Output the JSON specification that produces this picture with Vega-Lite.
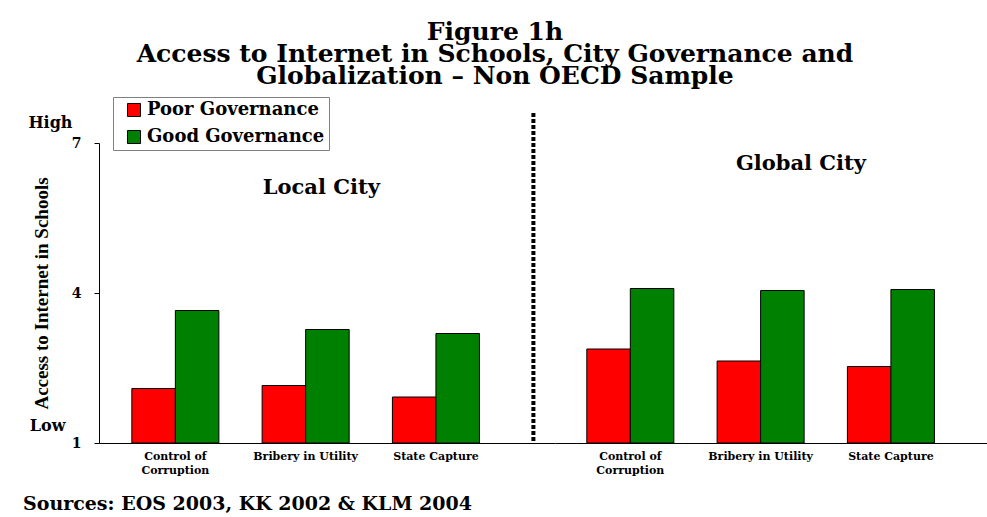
{
  "$schema": "https://vega.github.io/schema/vega-lite/v6.json",
  "background": "white",
  "padding": {"left": 22, "top": 19, "right": 0, "bottom": 0},
  "autosize": {"type": "pad"},
  "datasets": {
    "bars": [
      {"city": "Local City", "category": "Control of Corruption", "governance": "Poor Governance", "value": 2.09},
      {"city": "Local City", "category": "Control of Corruption", "governance": "Good Governance", "value": 3.65},
      {"city": "Local City", "category": "Bribery in Utility", "governance": "Poor Governance", "value": 2.15},
      {"city": "Local City", "category": "Bribery in Utility", "governance": "Good Governance", "value": 3.27},
      {"city": "Local City", "category": "State Capture", "governance": "Poor Governance", "value": 1.92},
      {"city": "Local City", "category": "State Capture", "governance": "Good Governance", "value": 3.19},
      {"city": "Global City", "category": "Control of Corruption", "governance": "Poor Governance", "value": 2.88},
      {"city": "Global City", "category": "Control of Corruption", "governance": "Good Governance", "value": 4.09},
      {"city": "Global City", "category": "Bribery in Utility", "governance": "Poor Governance", "value": 2.64},
      {"city": "Global City", "category": "Bribery in Utility", "governance": "Good Governance", "value": 4.05},
      {"city": "Global City", "category": "State Capture", "governance": "Poor Governance", "value": 2.53},
      {"city": "Global City", "category": "State Capture", "governance": "Good Governance", "value": 4.07}
    ]
  },
  "title": {
    "text": ["Figure 1h", "Access to Internet in Schools, City Governance and", "Globalization – Non OECD Sample"],
    "font": "DejaVu Serif",
    "fontSize": 25,
    "fontWeight": "bold",
    "lineHeight": 22,
    "color": "black",
    "anchor": "middle",
    "frame": "bounds",
    "dx": -10,
    "offset": 8
  },
  "spacing": 0,
  "resolve": {
    "scale": {"x": "independent", "y": "independent", "color": "independent"},
    "legend": {"color": "independent"}
  },
  "hconcat": [
    {
      "width": 456,
      "height": 300,
      "title": {
        "text": "Sources:  EOS 2003, KK 2002 & KLM 2004",
        "orient": "bottom",
        "anchor": "start",
        "frame": "bounds",
        "font": "DejaVu Serif",
        "fontSize": 19,
        "fontWeight": "bold",
        "color": "black",
        "dx": -5,
        "offset": 20
      },
      "resolve": {"axis": {"y": "independent"}},
      "layer": [
        {
          "data": {"name": "bars"},
          "transform": [{"filter": "datum.city == 'Local City'"}],
          "mark": {"type": "bar", "stroke": "black", "strokeWidth": 1},
          "encoding": {
            "x": {
              "field": "category",
              "type": "nominal",
              "scale": {
                "domain": ["Control of Corruption", "Bribery in Utility", "State Capture"],
                "paddingInner": 0.332,
                "paddingOuter": 0.416,
                "align": 0.303
              },
              "axis": {
                "title": null,
                "ticks": false,
                "labelAngle": 0,
                "labelExpr": "datum.value == 'Control of Corruption' ? ['Control of', 'Corruption'] : datum.label",
                "labelFont": "DejaVu Serif",
                "labelFontSize": 11,
                "labelFontWeight": "bold",
                "labelLineHeight": 14,
                "labelPadding": 7,
                "labelLimit": 0,
                "labelColor": "black",
                "domainColor": "black"
              }
            },
            "xOffset": {"field": "governance", "sort": ["Poor Governance", "Good Governance"]},
            "y": {
              "field": "value",
              "type": "quantitative",
              "scale": {"domain": [1, 7], "nice": false, "zero": false},
              "axis": {
                "orient": "left",
                "title": "Access to Internet in Schools",
                "titleFont": "Liberation Serif",
                "titleFontSize": 19,
                "titleFontWeight": "bold",
                "titleColor": "black",
                "titleX": -48,
                "titleY": 150,
                "values": [1, 4, 7],
                "labelFont": "DejaVu Serif",
                "labelFontSize": 14,
                "labelFontWeight": "bold",
                "labelPadding": 13,
                "labelOverlap": false,
                "labelColor": "black",
                "tickSize": 5,
                "tickColor": "black",
                "domainColor": "black",
                "grid": false
              }
            },
            "y2": {"datum": 1},
            "color": {
              "field": "governance",
              "type": "nominal",
              "scale": {"domain": ["Poor Governance", "Good Governance"], "range": ["#FF0000", "#008000"]},
              "legend": {
                "orient": "none",
                "legendX": 14,
                "legendY": -46,
                "title": null,
                "direction": "vertical",
                "symbolType": "square",
                "symbolSize": 170,
                "symbolStrokeColor": "black",
                "symbolStrokeWidth": 1,
                "symbolOffset": 8,
                "labelFont": "DejaVu Serif",
                "labelFontSize": 18,
                "labelFontWeight": "bold",
                "labelColor": "black",
                "labelLimit": 0,
                "labelOffset": 4,
                "rowPadding": 9,
                "padding": 4,
                "strokeColor": "#808080",
                "fillColor": "white"
              }
            }
          }
        },
        {
          "data": {"values": [{}]},
          "mark": {"type": "rule", "color": "black", "strokeWidth": 4, "strokeDash": [4, 2]},
          "encoding": {
            "x": {"datum": "State Capture", "bandPosition": 1.62},
            "y": {
              "datum": 7.6,
              "type": "quantitative",
              "axis": {
                "orient": "left",
                "title": null,
                "values": [1, 7],
                "labelExpr": "datum.value == 7 ? 'High' : 'Low'",
                "labelFont": "DejaVu Serif",
                "labelFontSize": 16,
                "labelFontWeight": "bold",
                "labelColor": "black",
                "labelOffset": {"condition": {"test": "datum.value == 7", "value": -21}, "value": -18},
                "labelPadding": {"condition": {"test": "datum.value == 7", "value": 27}, "value": 34},
                "labelOverlap": false,
                "ticks": false,
                "tickSize": 0,
                "domain": false,
                "grid": false
              }
            },
            "y2": {"datum": 1}
          }
        },
        {
          "data": {"values": [{}]},
          "mark": {"type": "text", "font": "DejaVu Serif", "fontSize": 21, "fontWeight": "bold", "color": "black", "align": "center", "baseline": "middle"},
          "encoding": {
            "x": {"datum": "Bribery in Utility", "bandPosition": 0.68},
            "y": {"datum": 6.1, "type": "quantitative", "axis": null},
            "text": {"value": "Local City"}
          }
        }
      ]
    },
    {
      "width": 432,
      "height": 300,
      "layer": [
        {
          "data": {"name": "bars"},
          "transform": [{"filter": "datum.city == 'Global City'"}],
          "mark": {"type": "bar", "stroke": "black", "strokeWidth": 1},
          "encoding": {
            "x": {
              "field": "category",
              "type": "nominal",
              "scale": {
                "domain": ["Control of Corruption", "Bribery in Utility", "State Capture"],
                "paddingInner": 0.332,
                "paddingOuter": 0.3237,
                "align": 0.377
              },
              "axis": {
                "title": null,
                "ticks": false,
                "labelAngle": 0,
                "labelExpr": "datum.value == 'Control of Corruption' ? ['Control of', 'Corruption'] : datum.label",
                "labelFont": "DejaVu Serif",
                "labelFontSize": 11,
                "labelFontWeight": "bold",
                "labelLineHeight": 14,
                "labelPadding": 7,
                "labelLimit": 0,
                "labelColor": "black",
                "domainColor": "black"
              }
            },
            "xOffset": {"field": "governance", "sort": ["Poor Governance", "Good Governance"]},
            "y": {
              "field": "value",
              "type": "quantitative",
              "scale": {"domain": [1, 7], "nice": false, "zero": false},
              "axis": null
            },
            "y2": {"datum": 1},
            "color": {
              "field": "governance",
              "type": "nominal",
              "scale": {"domain": ["Poor Governance", "Good Governance"], "range": ["#FF0000", "#008000"]},
              "legend": null
            }
          }
        },
        {
          "data": {"values": [{}]},
          "mark": {"type": "text", "font": "DejaVu Serif", "fontSize": 21, "fontWeight": "bold", "color": "black", "align": "center", "baseline": "middle"},
          "encoding": {
            "x": {"datum": "Bribery in Utility", "bandPosition": 0.963},
            "y": {"datum": 6.59, "type": "quantitative"},
            "text": {"value": "Global City"}
          }
        }
      ]
    }
  ],
  "config": {
    "view": {"stroke": null}
  }
}
